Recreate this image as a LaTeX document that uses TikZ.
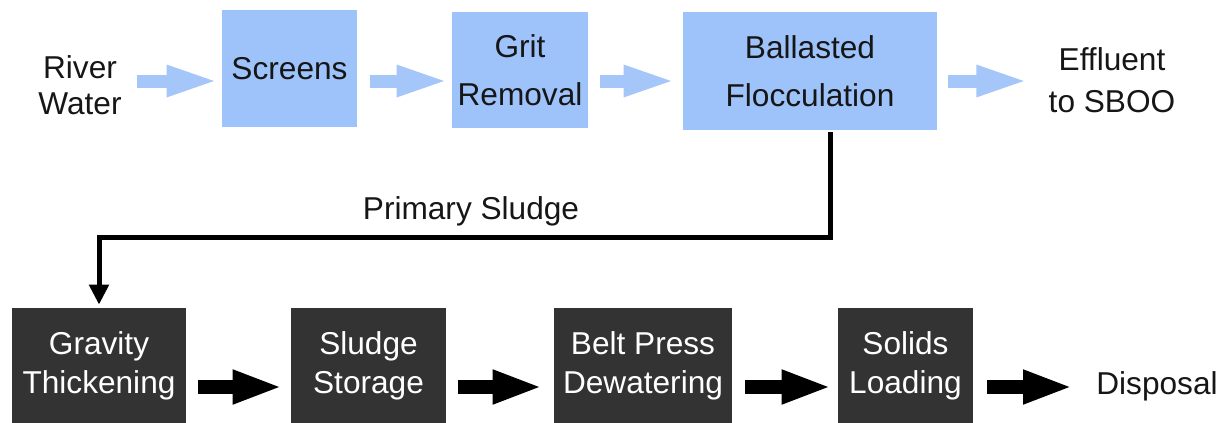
\documentclass[tikz,border=0pt]{standalone}
\usepackage{fontspec}
\setmainfont{Liberation Sans}
\usetikzlibrary{arrows.meta}
\definecolor{boxblue}{RGB}{158,194,250}
\definecolor{arrowblue}{RGB}{164,198,248}
\definecolor{darkbox}{RGB}{51,51,51}
\definecolor{ink}{RGB}{22,22,22}
\tikzset{
  topbox/.style={fill=boxblue, draw=none, align=center, text=ink, inner sep=0pt,
    font=\fontsize{18}{27.3}\selectfont},
  botbox/.style={fill=darkbox, draw=none, align=center, text=white, inner sep=0pt,
    font=\fontsize{18}{22.2}\selectfont},
  plain/.style={align=center, text=ink, inner sep=0pt},
  bluearrow/.style={draw=arrowblue, line width=0.26cm,
    -{Triangle[length=1.06cm 0 0, width=0.56cm 0 0, fill=arrowblue]}},
  blackarrow/.style={draw=black, line width=0.28cm,
    -{Triangle[length=1.0cm 0 0, width=0.62cm 0 0, fill=black]}},
  sludgeline/.style={draw=black, line width=0.1cm,
    -{Triangle[length=0.4cm 0 0, width=0.38cm 0 0]}}
}
\begin{document}
\begin{tikzpicture}[x=0.02cm, y=-0.02cm]
\useasboundingbox (0,0) rectangle (1232,423);
% top row
\node[plain, font=\fontsize{18}{20.5}\selectfont] (river) at (80,85) {River\\Water};
\node[topbox, minimum width=2.7cm, minimum height=2.34cm] (screens) at (289.5,68.5) {Screens};
\node[topbox, minimum width=2.72cm, minimum height=2.32cm] (grit) at (520,70) {Grit\\Removal};
\node[topbox, minimum width=5.08cm, minimum height=2.36cm] (floc) at (810,71) {Ballasted\\Flocculation};
\node[plain, font=\fontsize{18}{23.9}\selectfont] (effluent) at (1112,80) {Effluent\\to SBOO};
\coordinate (toprow) at (0,81);
% bottom row
\node[botbox, minimum width=3.48cm, minimum height=2.3cm] (grav) at (99,365.5) {Gravity\\Thickening};
\node[botbox, minimum width=3.1cm, minimum height=2.3cm] (storage) at (368.5,365.5) {Sludge\\Storage};
\node[botbox, minimum width=3.56cm, minimum height=2.3cm] (belt) at (643,365.5) {Belt Press\\Dewatering};
\node[botbox, minimum width=2.7cm, minimum height=2.3cm] (solids) at (905.5,365.5) {Solids\\Loading};
\node[plain, font=\fontsize{18}{22}\selectfont] (disposal) at (1157,386) {Disposal};
\coordinate (botrow) at (0,387);
% label
\node[plain, font=\fontsize{18}{22}\selectfont] (primlabel) at (471,211) {Primary Sludge};
% blue arrows
\draw[bluearrow, shorten <=0.3cm, shorten >=0.04cm] (river.east |- toprow) -- (screens.west |- toprow);
\draw[bluearrow, shorten <=0.26cm, shorten >=0.04cm] (screens.east |- toprow) -- (grit.west |- toprow);
\draw[bluearrow, shorten <=0.24cm, shorten >=0.12cm] (grit.east |- toprow) -- (floc.west |- toprow);
\draw[bluearrow, shorten <=0.22cm, shorten >=0.38cm] (floc.east |- toprow) -- (effluent.west |- toprow);
% black arrows
\draw[blackarrow, shorten <=0.24cm, shorten >=0.16cm] (grav.east |- botrow) -- (storage.west |- botrow);
\draw[blackarrow, shorten <=0.24cm, shorten >=0.22cm] (storage.east |- botrow) -- (belt.west |- botrow);
\draw[blackarrow, shorten <=0.26cm, shorten >=0.12cm] (belt.east |- botrow) -- (solids.west |- botrow);
\draw[blackarrow, shorten <=0.28cm, shorten >=0.46cm] (solids.east |- botrow) -- (disposal.west |- botrow);
% primary sludge line
\draw[sludgeline, shorten >=0.06cm] ([xshift=0.4cm, yshift=-0.04cm]floc.south) -- ++(0,105) -| (grav.north);
\end{tikzpicture}
\end{document}
